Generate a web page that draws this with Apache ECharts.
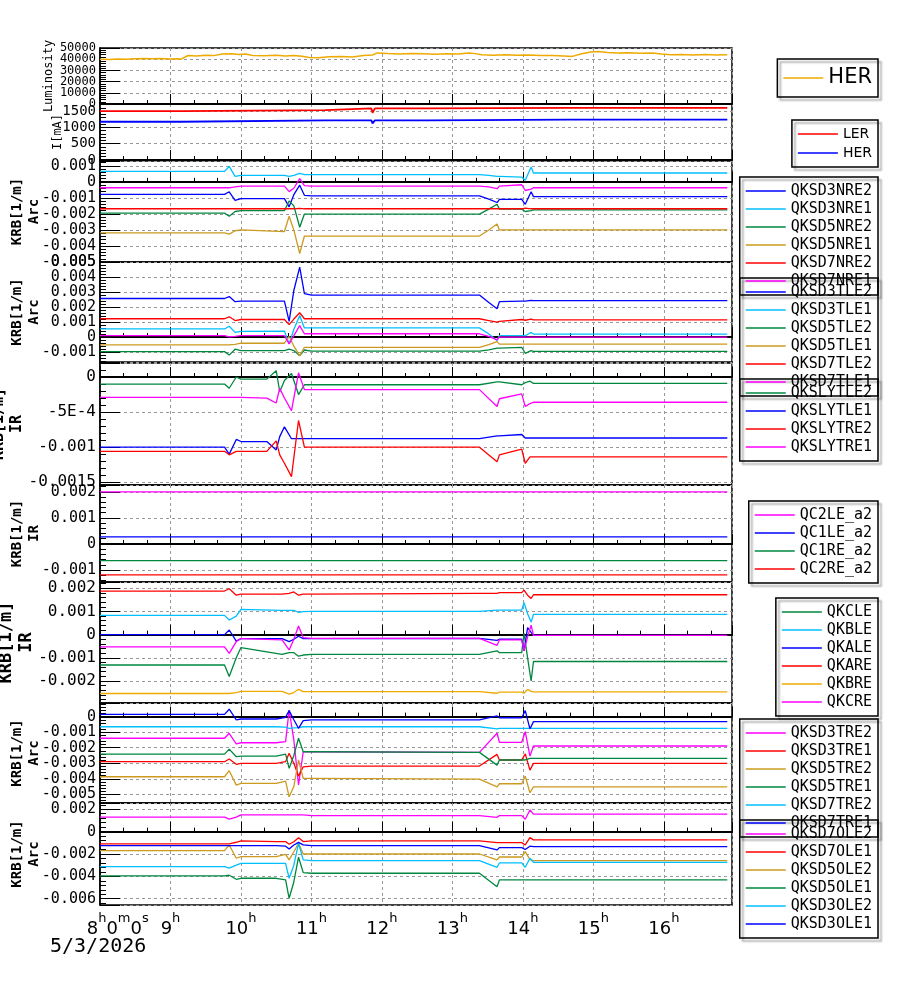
<!DOCTYPE html>
<html>
<head>
<meta charset="utf-8">
<script src="https://cdn.jsdelivr.net/npm/echarts@6/dist/echarts.min.js"></script>
<style>html,body{margin:0;padding:0;background:#fff}#main{width:900px;height:984px}</style>
</head>
<body>
<div id="main"></div>
<script>
// time axis: minutes after 08:00, 5/3/2026
var lumTime = [0, 8, 15, 22, 30, 38, 45, 52, 60, 66, 69, 75, 82, 90, 97, 104, 112, 118, 124, 130, 140, 150, 158, 165, 172, 178, 186, 195, 205, 215, 224, 232, 236, 245, 255, 265, 275, 285, 295, 305, 314, 318, 325, 335, 345, 355, 365, 375, 385, 395, 402, 410, 418, 424, 432, 440, 450, 460, 470, 478, 486, 495, 505, 515, 525, 534];
var lumHER = [40000, 39700, 40200, 39900, 40500, 40600, 40300, 40700, 40100, 40400, 40000, 43300, 42900, 43500, 43200, 44600, 44900, 44300, 44700, 43400, 43100, 43500, 42900, 43200, 42600, 41500, 41200, 42200, 42500, 42000, 43300, 43800, 45600, 45000, 44600, 45100, 44800, 44400, 44900, 44700, 45600, 45200, 43900, 43600, 44000, 43500, 43700, 43200, 43400, 42900, 42500, 44800, 46400, 46900, 45900, 45500, 45800, 45300, 45600, 44600, 44000, 44300, 43800, 44100, 43700, 44000];

var curTime = [0, 69, 70, 192, 193, 231, 232, 234, 279, 280, 399, 400, 401, 534];
var curLER = [1500, 1500, 1530, 1530, 1585, 1585, 1450, 1585, 1585, 1600, 1600, 1555, 1600, 1600];
var curHER = [1175, 1175, 1218, 1218, 1218, 1218, 1125, 1218, 1218, 1240, 1240, 1240, 1240, 1240];

// Arc NRE / TLE
var tArc = [0, 106, 110, 115, 120, 157, 161, 165, 170, 174, 180, 323, 331, 338, 340, 359, 362, 367, 369, 534];
var QKSD3NRE2 = [-0.00078, -0.00078, -0.00062, -0.00115, -0.00105, -0.00105, -0.00156, -0.0008, -0.00021, -0.00084, -0.00088, -0.00088, -0.00108, -0.00129, -0.00109, -0.00109, -0.0014, -0.00062, -0.00092, -0.00092];
var QKSD3NRE1 = [0.00065, 0.00065, 0.00096, 0.00034, 0.0004, 0.0004, 0.00034, 0.0004, 0.00053, 0.00045, 0.00045, 0.00045, 0.0004, 0.00034, 0.00034, 0.0003, 0.0001, 0.00092, 0.00055, 0.00055];
var QKSD5NRE2 = [-0.00195, -0.00195, -0.00215, -0.00185, -0.0018, -0.0018, -0.00119, -0.0015, -0.00283, -0.00201, -0.00201, -0.00201, -0.0017, -0.0014, -0.0017, -0.0017, -0.00185, -0.0018, -0.00175, -0.00175];
var QKSD5NRE1 = [-0.00318, -0.00318, -0.00326, -0.00305, -0.003, -0.0031, -0.00215, -0.003, -0.00447, -0.00338, -0.00338, -0.00338, -0.003, -0.00263, -0.003, -0.003, -0.003, -0.003, -0.003, -0.003];
var QKSD7NRE2 = [-0.00168, -0.00168, -0.00168, -0.00168, -0.00168, -0.00168, -0.00168, -0.00168, -0.00166, -0.00168, -0.00168, -0.00168, -0.00168, -0.00168, -0.00168, -0.00168, -0.00164, -0.00168, -0.00168, -0.00168];
var QKSD7NRE1 = [-0.00037, -0.00037, -0.00037, -0.00032, -0.00027, -0.00027, -0.00061, -0.0004, 0.0002, -0.00023, -0.00027, -0.00027, -0.00032, -0.00043, -0.00027, -0.00018, -0.00054, -0.00045, -0.00037, -0.00037];

var QKSD3TLE2 = [0.00257, 0.00257, 0.0027, 0.00236, 0.0024, 0.0024, 0.00105, 0.0031, 0.00466, 0.0029, 0.0028, 0.0028, 0.0023, 0.00189, 0.00236, 0.0024, 0.0024, 0.00245, 0.00243, 0.00243];
var QKSD3TLE1 = [0.00054, 0.00054, 0.00072, 0.00031, 0.00038, 0.0004, -0.00045, 0.0005, 0.00144, 0.00061, 0.00061, 0.00061, 0.0002, -0.00023, 0.00009, 0.00009, 0.00009, 0.00031, 0.0002, 0.0002];
var QKSD5TLE2 = [-0.00097, -0.00097, -0.0012, -0.00081, -0.0009, -0.0009, -0.00081, -0.0009, -0.00124, -0.00086, -0.00093, -0.00093, -0.00085, -0.00074, -0.00074, -0.00068, -0.00108, -0.0009, -0.00095, -0.00095];
var QKSD5TLE1 = [-0.00052, -0.00052, -0.00052, -0.00048, -0.00041, -0.00041, 0.00004, -0.0006, -0.00124, -0.00068, -0.00068, -0.00068, -0.0005, -0.0003, -0.00047, -0.00047, -0.00047, -0.00047, -0.00047, -0.00047];
var QKSD7TLE2 = [0.00122, 0.00122, 0.00135, 0.0011, 0.00117, 0.00117, 0.00083, 0.0012, 0.00162, 0.00122, 0.00122, 0.00122, 0.0011, 0.00099, 0.00105, 0.00117, 0.00112, 0.0012, 0.00115, 0.00115];
var QKSD7TLE1 = [0.00009, 0.00009, 0.00002, 0.00005, 0.00009, 0.00009, -0.00045, 0.0001, 0.00076, 0.00022, 0.00022, 0.00022, 0.00005, -0.00018, 0, 0, 0, 0, 0, 0];

// IR skew
var tSly = [0, 106, 110, 116, 120, 142, 150, 153, 157, 163, 169, 174, 180, 323, 338, 340, 359, 362, 366, 369, 534];
var QKSLYTLE2 = [-0.0001, -0.0001, -0.00016, 0, -0.00003, -0.00003, 0.00009, -0.00021, -0.00005, 0.00005, -0.00025, -0.00011, -0.00011, -0.00011, -0.00007, -0.00007, -0.00011, -0.00008, -0.00006, -0.00009, -0.00009];
var QKSLYTLE1 = [-0.001, -0.001, -0.0011, -0.00089, -0.00092, -0.00092, -0.00104, -0.00085, -0.00071, -0.00088, -0.00088, -0.00088, -0.00088, -0.00088, -0.00084, -0.00084, -0.00082, -0.00087, -0.00087, -0.00087, -0.00087];
var QKSLYTRE2 = [-0.00106, -0.00106, -0.00111, -0.00106, -0.00106, -0.00106, -0.00091, -0.00111, -0.00123, -0.00142, -0.00062, -0.001, -0.001, -0.001, -0.00121, -0.00111, -0.00103, -0.00123, -0.00114, -0.00114, -0.00114];
var QKSLYTRE1 = [-0.00029, -0.00029, -0.00029, -0.00029, -0.00029, -0.0003, -0.00037, -0.00016, -0.0003, -0.00048, 0.00006, -0.00018, -0.00018, -0.00018, -0.00042, -0.00031, -0.00024, -0.00042, -0.00038, -0.00036, -0.00036];

var tQc = [0, 534];
var QC2LE_a2 = [0.002, 0.002];
var QC1LE_a2 = [0.00027, 0.00027];
var QC1RE_a2 = [-0.00064, -0.00064];
var QC2RE_a2 = [-0.00119, -0.00119];

var tQk = [0, 106, 110, 116, 120, 155, 161, 165, 169, 173, 180, 323, 338, 340, 359, 361, 364, 367, 369, 534];
var QKCLE = [-0.00131, -0.00131, -0.00181, -0.001, -0.00056, -0.00085, -0.00078, -0.00078, -0.00093, -0.00088, -0.00085, -0.00085, -0.0007, -0.00078, -0.00078, 0.00006, -0.001, -0.002, -0.00116, -0.00116];
var QKBLE = [0.00083, 0.00083, 0.00063, 0.0008, 0.00109, 0.00105, 0.00105, 0.00105, 0.00096, 0.00099, 0.001, 0.001, 0.00106, 0.00106, 0.00106, 0.00138, 0.0009, 0.00054, 0.00087, 0.00087];
var QKALE = [0, 0, 0.0002, -0.00028, -0.00017, -0.00017, -0.0003, -0.0002, -0.00007, -0.00017, -0.00017, -0.00016, -0.00025, -0.0002, -0.0002, -0.0007, 0.0003, 0.0001, -0.00003, -0.00003];
var QKARE = [0.00188, 0.00188, 0.00198, 0.0017, 0.00175, 0.00175, 0.00178, 0.00184, 0.0017, 0.00175, 0.00175, 0.00178, 0.00178, 0.00181, 0.00181, 0.00192, 0.0017, 0.00156, 0.00172, 0.00172];
var QKBRE = [-0.00254, -0.00254, -0.00254, -0.0025, -0.00245, -0.00245, -0.00257, -0.0025, -0.00236, -0.00246, -0.00246, -0.00246, -0.00253, -0.00248, -0.00248, -0.00253, -0.00236, -0.00245, -0.00247, -0.00247];
var QKCRE = [-0.00053, -0.00053, -0.00081, -0.0003, -0.00017, -0.00023, -0.00066, -0.0002, 0.00037, -0.00013, -0.00016, -0.00016, -0.00046, -0.00023, -0.00023, -0.0007, -0.0001, 0.00041, -0.00003, -0.00003];

// Arc TRE / OLE
var tArc2 = [0, 106, 110, 116, 120, 150, 158, 161, 165, 169, 173, 180, 323, 338, 340, 359, 362, 366, 369, 534];
var QKSD3TRE2 = [-0.00139, -0.00139, -0.00107, -0.00176, -0.00168, -0.00168, -0.00161, 0.00043, -0.0015, -0.0044, -0.00226, -0.00226, -0.0023, -0.00107, -0.00165, -0.00165, -0.00097, -0.00254, -0.00189, -0.00189];
var QKSD3TRE1 = [-0.0029, -0.0029, -0.00273, -0.00307, -0.00301, -0.00301, -0.0029, -0.00236, -0.003, -0.00383, -0.00323, -0.00318, -0.00318, -0.00243, -0.00279, -0.00279, -0.0024, -0.00344, -0.00301, -0.00301];
var QKSD5TRE2 = [-0.00387, -0.00387, -0.00348, -0.00441, -0.0043, -0.0043, -0.00415, -0.00516, -0.0045, -0.00279, -0.00398, -0.00398, -0.00402, -0.00452, -0.00432, -0.00432, -0.00383, -0.0049, -0.00452, -0.00452];
var QKSD5TRE1 = [-0.00241, -0.00241, -0.00209, -0.00258, -0.00254, -0.00254, -0.00241, -0.00333, -0.0025, -0.00139, -0.00226, -0.00226, -0.0023, -0.00312, -0.00279, -0.00279, -0.00279, -0.00269, -0.00269, -0.00269];
var QKSD7TRE2 = [-0.00065, -0.00065, -0.00065, -0.00065, -0.00065, -0.00065, -0.00068, -0.00075, -0.00072, -0.0007, -0.00065, -0.00065, -0.00065, -0.00079, -0.00075, -0.00075, -0.00075, -0.00075, -0.00075, -0.00075];
var QKSD7TRE1 = [0.00015, 0.00015, 0.00048, -0.00021, -0.00015, -0.00015, -0.00004, 0.00039, -0.0002, -0.00075, -0.00026, -0.00021, -0.00021, 0.00005, -0.00007, -0.00007, 0.00039, -0.00079, -0.00032, -0.00032];

var QKSD7OLE2 = [0.00129, 0.00129, 0.00111, 0.0013, 0.00149, 0.00149, 0.00149, 0.00149, 0.00149, 0.00149, 0.00149, 0.00143, 0.00143, 0.00128, 0.00143, 0.00143, 0.00111, 0.00194, 0.00156, 0.00156];
var QKSD7OLE1 = [-0.0011, -0.0011, -0.0011, -0.00095, -0.00083, -0.00089, -0.00089, -0.00113, -0.0009, -0.00054, -0.00089, -0.00083, -0.00083, -0.00098, -0.00098, -0.00098, -0.00119, -0.00054, -0.00074, -0.00074];
var QKSD5OLE2 = [-0.0017, -0.0017, -0.00119, -0.00238, -0.00224, -0.00224, -0.00203, -0.00253, -0.0018, -0.00105, -0.002, -0.002, -0.002, -0.00253, -0.00227, -0.00227, -0.00179, -0.0025, -0.0026, -0.0026];
var QKSD5OLE1 = [-0.00396, -0.00396, -0.0039, -0.00426, -0.00417, -0.00417, -0.00432, -0.00596, -0.0045, -0.00229, -0.00367, -0.00372, -0.00372, -0.00492, -0.00432, -0.00432, -0.00432, -0.00432, -0.00432, -0.00432];
var QKSD3OLE2 = [-0.00313, -0.00313, -0.00326, -0.003, -0.00283, -0.00283, -0.00283, -0.00417, -0.003, -0.00105, -0.00253, -0.0026, -0.0026, -0.00319, -0.0028, -0.0028, -0.00319, -0.00238, -0.00274, -0.00274];
var QKSD3OLE1 = [-0.00125, -0.00125, -0.00125, -0.00125, -0.00125, -0.00125, -0.0013, -0.00155, -0.0012, -0.00096, -0.00119, -0.00125, -0.00125, -0.00164, -0.00143, -0.00143, -0.0016, -0.0013, -0.00134, -0.00134];

var BLUE = '#0000ff', CYAN = '#00bfff', GREEN = '#00873f', GOLD = '#cc9a1f',
    RED = '#ff0000', MAG = '#ff00ff', ORANGE = '#eeaa00';

function pairs(t, v) {
    return t.map(function (x, i) { return [x, v[i]]; });
}

// one entry per stacked panel
var panels = [
    { top: 48, h: 56, min: 0, max: 50000, interval: 10000, fs: 12, ends: true, name: 'Luminosity', nfs: 12, bold: false, gap: 44,
      lines: [['HER', ORANGE, lumTime, lumHER, 1.5]] },
    { top: 104, h: 56, min: 0, max: 1720, split: 4, fs: 14, name: 'I[mA]', nfs: 12, bold: false, gap: 35,
      lines: [['LER', RED, curTime, curLER, 1.8], ['HER', BLUE, curTime, curHER, 1.8]] },
    { top: 161, h: 101, min: -0.005, max: 0.0013, interval: 0.001, fs: 15, name: 'KRB[1/m]\nArc', nfs: 14, bold: true, gap: 57,
      lines: [['QKSD3NRE2', BLUE, tArc, QKSD3NRE2], ['QKSD3NRE1', CYAN, tArc, QKSD3NRE1], ['QKSD5NRE2', GREEN, tArc, QKSD5NRE2],
              ['QKSD5NRE1', GOLD, tArc, QKSD5NRE1], ['QKSD7NRE2', RED, tArc, QKSD7NRE2], ['QKSD7NRE1', MAG, tArc, QKSD7NRE1]] },
    { top: 262, h: 100, min: -0.00166, max: 0.005, split: 6, fs: 15, name: 'KRB[1/m]\nArc', nfs: 14, bold: true, gap: 57,
      lines: [['QKSD3TLE2', BLUE, tArc, QKSD3TLE2], ['QKSD3TLE1', CYAN, tArc, QKSD3TLE1], ['QKSD5TLE2', GREEN, tArc, QKSD5TLE2],
              ['QKSD5TLE1', GOLD, tArc, QKSD5TLE1], ['QKSD7TLE2', RED, tArc, QKSD7TLE2], ['QKSD7TLE1', MAG, tArc, QKSD7TLE1]] },
    { top: 363, h: 122, min: -0.00154, max: 0.0002, split: 4, fs: 16, name: 'KRB[1/m]\nIR', nfs: 15, bold: true, gap: 74,
      lines: [['QKSLYTLE2', GREEN, tSly, QKSLYTLE2], ['QKSLYTLE1', BLUE, tSly, QKSLYTLE1],
              ['QKSLYTRE2', RED, tSly, QKSLYTRE2], ['QKSLYTRE1', MAG, tSly, QKSLYTRE1]] },
    { top: 485, h: 97, min: -0.00146, max: 0.00226, split: 4, fs: 15, name: 'KRB[1/m]\nIR', nfs: 14, bold: true, gap: 57,
      lines: [['QC2LE_a2', MAG, tQc, QC2LE_a2], ['QC1LE_a2', BLUE, tQc, QC1LE_a2],
              ['QC1RE_a2', GREEN, tQc, QC1RE_a2], ['QC2RE_a2', RED, tQc, QC2RE_a2]] },
    { top: 582, h: 121, min: -0.00295, max: 0.00227, split: 5, fs: 16, name: 'KRB[1/m]\nIR', nfs: 17, bold: true, gap: 63,
      lines: [['QKCLE', GREEN, tQk, QKCLE], ['QKBLE', CYAN, tQk, QKBLE], ['QKALE', BLUE, tQk, QKALE],
              ['QKARE', RED, tQk, QKARE], ['QKBRE', ORANGE, tQk, QKBRE], ['QKCRE', MAG, tQk, QKCRE]] },
    { top: 703, h: 100, min: -0.00556, max: 0.00088, split: 6, fs: 15, name: 'KRB[1/m]\nArc', nfs: 14, bold: true, gap: 57,
      lines: [['QKSD3TRE2', MAG, tArc2, QKSD3TRE2], ['QKSD3TRE1', RED, tArc2, QKSD3TRE1], ['QKSD5TRE2', GOLD, tArc2, QKSD5TRE2],
              ['QKSD5TRE1', GREEN, tArc2, QKSD5TRE1], ['QKSD7TRE2', CYAN, tArc2, QKSD7TRE2], ['QKSD7TRE1', BLUE, tArc2, QKSD7TRE1]] },
    { top: 803, h: 102, min: -0.00656, max: 0.00256, split: 5, fs: 15, name: 'KRB[1/m]\nArc', nfs: 14, bold: true, gap: 57,
      lines: [['QKSD7OLE2', MAG, tArc2, QKSD7OLE2], ['QKSD7OLE1', RED, tArc2, QKSD7OLE1], ['QKSD5OLE2', GOLD, tArc2, QKSD5OLE2],
              ['QKSD5OLE1', GREEN, tArc2, QKSD5OLE1], ['QKSD3OLE2', CYAN, tArc2, QKSD3OLE2], ['QKSD3OLE1', BLUE, tArc2, QKSD3OLE1]] }
];

// legend boxes: panel index, top, font
var legendBoxes = [
    { p: 0, top: 59, font: 'DejaVu Sans', size: 21, lh: 24, gap: 2, pad: [7, 6, 7, 6] },
    { p: 1, top: 120, font: 'DejaVu Sans', size: 14, lh: 16, gap: 3, pad: [6, 6, 6, 6] },
    { p: 2, top: 177 }, { p: 3, top: 278 }, { p: 4, top: 379 }, { p: 5, top: 501 },
    { p: 6, top: 598 }, { p: 7, top: 719 }, { p: 8, top: 820 }
];

function fmtY(v) {
    var r = Math.round(v * 1e7) / 1e7;
    if (Math.abs(r) < 1e-12) return '0';
    if (r === -0.0005) return '-5E-4';
    return String(r);
}

var XMAX = 538;
var grid = [], xAxis = [], yAxis = [], series = [], legend = [], extraY = [];
var dash = { color: '#999', type: [3, 3], width: 1 };
var big = { fontSize: 18, fontFamily: 'DejaVu Sans', color: '#000', lineHeight: 26, verticalAlign: 'bottom' };
var sup = { fontSize: 13, fontFamily: 'DejaVu Sans', color: '#000', lineHeight: 13, verticalAlign: 'top' };
var shift = { fontSize: 18, fontFamily: 'DejaVu Sans', color: '#000', lineHeight: 26, verticalAlign: 'bottom', padding: [0, 0, 0, -19] };

panels.forEach(function (p, i) {
    var last = i === panels.length - 1;
    grid.push({ left: 100, right: 168, top: p.top, height: p.h, show: true, borderColor: '#000', borderWidth: 1.5,
                containLabel: false, outerBoundsMode: 'none' });
    xAxis.push({
        type: 'value', gridIndex: i, min: 0, max: XMAX, interval: 60,
        axisLine: { show: true, lineStyle: { color: '#000', width: 2 } },
        axisTick: { show: true, inside: true, length: 10, lineStyle: { color: '#000' } },
        minorTick: { show: true, splitNumber: 3, length: 4, lineStyle: { color: '#000' } },
        splitLine: { show: true, lineStyle: dash },
        axisLabel: last ? {
            show: true, margin: 7, showMinLabel: true, showMaxLabel: false, hideOverlap: false, alignMinLabel: 'left',
            formatter: function (v) {
                if (v === 0) return '{n| }{d|8}{s|h}{d|0}{s|m}{d|0}{s|s}';
                return '{d|' + (8 + v / 60) + '}{s|h}';
            },
            rich: { n: shift, d: big, s: sup }
        } : { show: false }
    });
    var lab = { fontFamily: 'DejaVu Sans Mono', fontSize: p.fs, color: '#000', margin: 4, formatter: fmtY, hideOverlap: false,
                showMinLabel: p.min === -0.005, showMaxLabel: p.max === 0.005 };
    if (p.min === 0 && !p.ends) lab.showMinLabel = true;
    yAxis.push({
        type: 'value', gridIndex: i, min: p.min, max: p.max, interval: p.interval, splitNumber: p.split,
        name: p.name, nameLocation: 'middle', nameRotate: 90, nameGap: p.gap, nameMoveOverlap: false,
        nameTextStyle: { fontFamily: 'DejaVu Sans Mono', fontSize: p.nfs, fontWeight: p.bold ? 'bold' : 'normal', color: '#000', lineHeight: p.nfs + 3 },
        axisLine: { show: true, lineStyle: { color: '#000', width: 1.5 } },
        axisTick: { show: true, inside: true, length: 20, lineStyle: { color: '#000' } },
        minorTick: { show: true, splitNumber: 5, length: 6, lineStyle: { color: '#000' } },
        splitLine: { show: true, lineStyle: dash },
        axisLabel: lab
    });
    if (p.ends) {
        // second axis on the same scale that only labels the two end values
        extraY.push({
            type: 'value', gridIndex: i, position: 'left', offset: 0, min: p.min, max: p.max, interval: p.max - p.min,
            axisLine: { show: false }, axisTick: { show: false }, splitLine: { show: false },
            axisLabel: { fontFamily: 'DejaVu Sans Mono', fontSize: p.fs, color: '#000', margin: 4, formatter: fmtY,
                         showMinLabel: true, showMaxLabel: true }
        });
    }
    p.lines.forEach(function (l) {
        series.push({
            type: 'line', name: l[0], xAxisIndex: i, yAxisIndex: i,
            data: pairs(l[2], l[3]), showSymbol: false, symbol: 'none', animation: false,
            lineStyle: { color: l[1], width: l[4] || 1.3 }, itemStyle: { color: l[1] }
        });
    });
});
yAxis = yAxis.concat(extraY);

legendBoxes.forEach(function (b) {
    var p = panels[b.p];
    legend.push({
        orient: 'vertical', right: 22, top: b.top, selectedMode: false,
        borderColor: '#000', borderWidth: 1.5, backgroundColor: 'transparent',
        shadowColor: 'rgba(0,0,0,0.35)', shadowBlur: 2, shadowOffsetX: 3, shadowOffsetY: 3,
        padding: b.pad || [6, 6, 6, 6], itemGap: b.gap || 2, itemWidth: 40, itemHeight: 1.5, icon: 'rect',
        textStyle: { fontFamily: b.font || 'DejaVu Sans Mono', fontSize: b.size || 15, lineHeight: b.lh || 16, color: '#000' },
        data: p.lines.map(function (l) { return { name: l[0], icon: 'rect', itemStyle: { color: l[1] } }; })
    });
});

var chart = echarts.init(document.getElementById('main'), null, { renderer: 'canvas' });
chart.setOption({
    backgroundColor: '#fff',
    animation: false,
    title: { text: '5/3/2026', left: 50, top: 937, padding: 0,
             textStyle: { fontFamily: 'DejaVu Sans Mono', fontSize: 20, fontWeight: 'normal', color: '#000' } },
    grid: grid, xAxis: xAxis, yAxis: yAxis, legend: legend, series: series
});
</script>
</body>
</html>
